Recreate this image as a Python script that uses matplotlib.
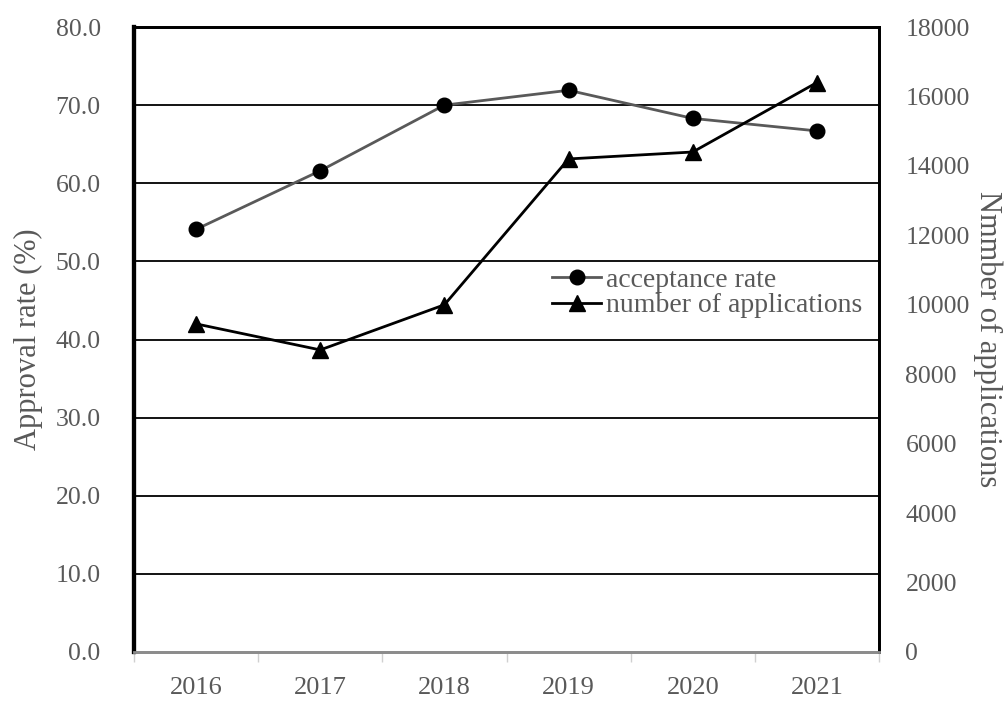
import numpy as np
import matplotlib.pyplot as plt
from matplotlib.lines import Line2D

years = ["2016", "2017", "2018", "2019", "2020", "2021"]
acceptance_rate = [54.1, 61.6, 70.0, 71.9, 68.3, 66.7]
applications = [9450, 8700, 10000, 14200, 14400, 16400]

plt.rcParams["font.family"] = ["Liberation Serif", "DejaVu Serif"]
grey = "#595959"

fig = plt.figure(figsize=(10.08, 7.04), dpi=100)
ax = fig.add_axes([134 / 1008, 52 / 704, 745 / 1008, 625 / 704])
ax2 = ax.twinx()

x = np.arange(len(years)) + 0.5

# horizontal gridlines
for v in np.arange(10, 80, 10):
    ax.axhline(v, color="black", lw=1.3, zorder=1)

ax.plot(x, acceptance_rate, color=grey, lw=2, marker="o", ms=10.5,
        mfc="black", mec="black", zorder=3)
ax2.plot(x, applications, color="black", lw=2, marker="^", ms=11.5,
         mfc="black", mec="black", zorder=3)

ax.set_xlim(0, 6)
ax.set_ylim(0, 80)
ax2.set_ylim(0, 18000)

ax.set_yticks(np.arange(0, 81, 10))
ax.set_yticklabels([f"{v:.1f}" for v in np.arange(0, 81, 10)])
ax2.set_yticks(np.arange(0, 18001, 2000))

ax.set_xticks(np.arange(0, 7), minor=False)
ax.set_xticklabels([])
ax.set_xticks(x, minor=True)
ax.set_xticklabels(years, minor=True)
ax.tick_params(axis="x", which="major", length=7, color="#d0d0d0", width=1)
ax.tick_params(axis="x", which="minor", length=0, pad=18, labelsize=19, labelcolor=grey)
ax.tick_params(axis="y", length=0, pad=24, labelsize=18.5, labelcolor=grey)
ax2.tick_params(axis="y", length=0, pad=19, labelsize=18.5, labelcolor=grey)

for a in (ax, ax2):
    a.spines["left"].set_linewidth(3)
    a.spines["top"].set_linewidth(2)
    a.spines["right"].set_linewidth(2)
    a.spines["bottom"].set_linewidth(2)
    a.spines["bottom"].set_color("#8c8c8c")

ax.set_ylabel("Approval rate (%)", fontsize=22, color=grey, va="center")
ax.yaxis.set_label_coords(-0.142, 0.5)
ax2.set_ylabel("Nmmber of applications", fontsize=22, color=grey,
               rotation=-90, va="center")
ax2.yaxis.set_label_coords(1.146, 0.5)

handles = [
    Line2D([], [], color=grey, lw=2, marker="o", ms=10.5, mfc="black", mec="black"),
    Line2D([], [], color="black", lw=2, marker="^", ms=11.5, mfc="black", mec="black"),
]
ax2.legend(handles, ["acceptance rate", "number of applications"],
           loc="upper left", bbox_to_anchor=(0.5465, 0.633), frameon=False,
           fontsize=20, handlelength=1.75, handletextpad=0.2, labelspacing=0.0,
           labelcolor=grey, borderaxespad=0)

fig.savefig("out.png", dpi=100)
